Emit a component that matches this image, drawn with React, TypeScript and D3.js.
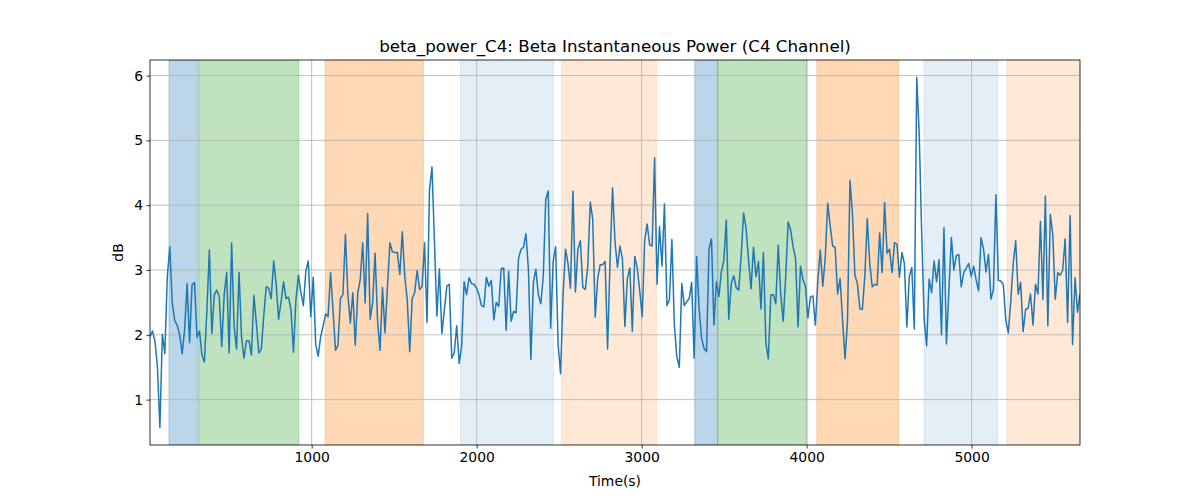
import React, { useEffect, useRef } from 'react';
import * as d3 from 'd3';

// beta power values (dB), sampled uniformly in time
const power: number[] = [
  1.97, 2.06, 1.90, 1.51, 0.57, 2.01, 1.71, 2.9, 3.36, 2.49, 2.22, 2.15, 2.0, 1.71, 2.08, 2.79, 1.88, 2.77, 2.81, 1.96,
  2.06, 1.69, 1.58, 2.38, 3.31, 2.02, 2.62, 2.69, 2.59, 1.82, 2.62, 2.96, 1.72, 3.42, 2.13, 1.78, 2.96, 1.97, 1.64, 1.91,
  1.91, 1.69, 2.61, 2.18, 1.72, 1.78, 2.3, 2.74, 2.72, 2.56, 3.14, 2.79, 2.24, 2.51, 2.82, 2.56, 2.58, 2.38, 1.73, 2.54,
  2.92, 2.65, 2.45, 2.98, 3.14, 2.28, 2.89, 1.85, 1.67, 1.97, 2.14, 2.32, 2.28, 2.96, 2.38, 1.76, 1.84, 2.56,
  2.62, 3.55, 2.62, 2.18, 2.65, 1.84, 2.65, 2.85, 3.42, 2.49, 3.87, 2.24, 2.49, 3.26, 2.22, 1.76, 2.73, 2.03, 2.74, 3.42,
  3.28, 3.27, 3.27, 2.93, 3.59, 2.9, 2.54, 1.74, 2.56, 2.65, 2.99, 2.7, 2.74, 3.42, 2.19, 4.23, 4.59, 3.44, 2.29, 3.02,
  2.02, 2.38, 2.75, 2.78, 1.64, 1.72, 2.14, 1.56, 1.83, 2.82, 2.62, 2.88, 2.79, 2.78, 2.72, 2.62, 2.45, 2.43, 2.89, 2.75,
  2.84, 2.23, 2.5, 2.44, 3.02, 3.03, 2.07, 2.98, 2.21, 2.36, 2.34, 3.18, 3.32, 3.35, 3.56, 3.0, 1.62,
  2.81, 3.01, 2.62, 2.48, 2.9, 4.09, 4.22, 2.1, 3.13, 3.36, 1.85, 1.4, 2.62, 3.32, 3.1, 2.72, 4.22, 2.66, 3.32, 3.45,
  2.73, 2.7, 3.06, 4.05, 3.78, 2.27, 2.87, 3.08, 3.08, 3.13, 1.78, 3.14, 4.27, 3.44, 3.04, 3.37, 3.17, 2.13, 2.87, 3.03,
  2.05, 3.21, 3.03, 2.68, 2.28, 3.46, 3.71, 3.39, 3.37, 4.73, 2.78, 3.67, 3.06, 4.02, 2.45, 2.54, 3.47, 2.15, 1.66, 1.5,
  2.79, 2.45, 2.51, 2.56, 2.81, 1.64, 3.21, 2.41, 1.95, 1.79, 1.74, 3.32, 3.48, 2.15, 2.82, 2.59,
  2.97, 3.15, 3.77, 2.24, 2.79, 2.91, 2.73, 2.69, 3.21, 3.88, 3.64, 3.15, 2.71, 3.35, 2.9, 3.13, 2.4, 3.27, 1.87, 1.63,
  2.62, 2.62, 2.48, 3.38, 2.63, 2.21, 2.89, 3.74, 3.62, 3.36, 3.18, 2.12, 3.06, 2.85, 2.75, 2.26, 2.58, 2.6, 2.15, 2.83,
  3.31, 2.75, 3.18, 4.03, 3.68, 3.37, 3.35, 2.63, 2.87, 2.23, 1.63, 2.21, 4.38, 3.88, 2.92, 2.79, 2.4, 2.39, 2.9, 3.79,
  3.1, 2.74, 2.78, 2.77, 3.57, 2.96, 4.04, 3.26, 3.32, 2.96, 3.42, 3.4, 2.89, 3.27, 3.1, 2.12, 2.9,
  3.04, 2.09, 5.97, 5.1, 3.56, 2.23, 1.83, 2.86, 2.65, 3.14, 2.82, 3.16, 2.0, 3.65, 1.86, 2.69, 3.5, 3.0, 3.22, 3.24,
  2.74, 2.96, 3.03, 3.1, 2.9, 3.06, 2.85, 2.68, 3.5, 3.32, 2.97, 3.24, 2.55, 2.7, 4.16, 2.84, 2.83, 2.77, 2.23, 2.03,
  2.51, 3.1, 3.45, 2.63, 2.81, 2.05, 2.39, 2.41, 2.63, 2.15, 2.78, 2.63, 3.75, 2.55, 4.14, 2.14, 3.86, 3.54, 2.55, 2.96,
  2.92, 3.0, 3.48, 2.19, 3.84, 1.85, 2.88, 2.35, 2.63,
];

const T_START = 20;
const T_END = 5657;

// shaded epochs: [start, end] in seconds, with their colour / alpha
const spanStarts = [135, 317, 1082, 1901, 2514, 3322, 3461, 4062, 4712, 5215];
const spanEnds = [311, 922, 1677, 2466, 3089, 3461, 4003, 4558, 5159, 5657];
const spanColors = ['#1f77b4', '#2ca02c', '#ff7f0e', '#1f77b4', '#ff7f0e', '#1f77b4', '#2ca02c', '#ff7f0e', '#1f77b4', '#ff7f0e'];
const spanAlphas = [0.3, 0.3, 0.3, 0.12, 0.17, 0.3, 0.3, 0.3, 0.12, 0.17];

const xTicks = [1000, 2000, 3000, 4000, 5000];
const yTicks = [1, 2, 3, 4, 5, 6];

const W = 1200;
const H = 500;
const M = { left: 150, right: 120, top: 60, bottom: 55 };

const App = () => {
  const ref = useRef<SVGSVGElement>(null);

  useEffect(() => {
    const svg = d3.select(ref.current);
    svg.selectAll('*').remove();

    const font = 'DejaVu Sans, sans-serif';
    const iw = W - M.left - M.right;
    const ih = H - M.top - M.bottom;
    const step = (T_END - T_START) / (power.length - 1);
    const pts = power.map((v, i) => ({ t: T_START + i * step, v }));

    const x = d3.scaleLinear().domain([T_START, T_END]).range([0, iw]);
    const y = d3.scaleLinear().domain([0.3, 6.24]).range([ih, 0]);

    svg.append('rect').attr('width', W).attr('height', H).attr('fill', 'white');

    const g = svg.append('g').attr('transform', `translate(${M.left},${M.top})`);
    g.append('defs').append('clipPath').attr('id', 'clip')
      .append('rect').attr('width', iw).attr('height', ih);

    const body = g.append('g').attr('clip-path', 'url(#clip)');

    body.selectAll('rect.span')
      .data(spanStarts.map((s, i) => ({ s, e: spanEnds[i], c: spanColors[i], a: spanAlphas[i] })))
      .enter()
      .append('rect')
      .attr('class', 'span')
      .attr('x', (d) => x(d.s))
      .attr('width', (d) => x(d.e) - x(d.s))
      .attr('y', 0)
      .attr('height', ih)
      .attr('fill', (d) => d.c)
      .attr('fill-opacity', (d) => d.a)
      .attr('stroke', (d) => d.c)
      .attr('stroke-opacity', (d) => d.a)
      .attr('stroke-width', 1);

    // grid
    body.selectAll('line.gx').data(xTicks).enter().append('line')
      .attr('x1', (d) => x(d)).attr('x2', (d) => x(d))
      .attr('y1', 0).attr('y2', ih)
      .attr('stroke', '#b0b0b0').attr('stroke-width', 0.8);
    body.selectAll('line.gy').data(yTicks).enter().append('line')
      .attr('y1', (d) => y(d)).attr('y2', (d) => y(d))
      .attr('x1', 0).attr('x2', iw)
      .attr('stroke', '#b0b0b0').attr('stroke-width', 0.8);

    const line = d3.line<{ t: number; v: number }>().x((d) => x(d.t)).y((d) => y(d.v));
    body.append('path')
      .datum(pts)
      .attr('d', line)
      .attr('fill', 'none')
      .attr('stroke', '#1f77b4')
      .attr('stroke-width', 1.5)
      .attr('stroke-linejoin', 'round');

    // axes
    const xAxis = g.append('g').attr('transform', `translate(0,${ih})`)
      .call(d3.axisBottom(x).tickValues(xTicks).tickSize(3.5).tickPadding(3.5).tickFormat(d3.format('d')));
    const yAxis = g.append('g')
      .call(d3.axisLeft(y).tickValues(yTicks).tickSize(3.5).tickPadding(3.5).tickFormat(d3.format('d')));
    [xAxis, yAxis].forEach((a) => {
      a.select('.domain').remove();
      a.selectAll('line').attr('stroke', 'black').attr('stroke-width', 0.8);
      a.selectAll('text').attr('font-family', font).attr('font-size', 13.9).attr('fill', 'black');
    });

    g.append('rect').attr('width', iw).attr('height', ih)
      .attr('fill', 'none').attr('stroke', 'black').attr('stroke-width', 0.8);

    svg.append('text')
      .attr('x', M.left + iw / 2).attr('y', M.top - 8)
      .attr('text-anchor', 'middle')
      .attr('font-family', font).attr('font-size', 16.7)
      .text('beta_power_C4: Beta Instantaneous Power (C4 Channel)');

    svg.append('text')
      .attr('x', M.left + iw / 2).attr('y', H - 14)
      .attr('text-anchor', 'middle')
      .attr('font-family', font).attr('font-size', 13.9)
      .text('Time(s)');

    svg.append('text')
      .attr('transform', `translate(${M.left - 27},${M.top + ih / 2}) rotate(-90)`)
      .attr('text-anchor', 'middle')
      .attr('font-family', font).attr('font-size', 13.9)
      .text('dB');
  }, []);

  return (
    <div style={{ margin: -8, width: W, height: H }}>
      <svg ref={ref} width={W} height={H} style={{ display: 'block' }} />
    </div>
  );
};

export default App;
